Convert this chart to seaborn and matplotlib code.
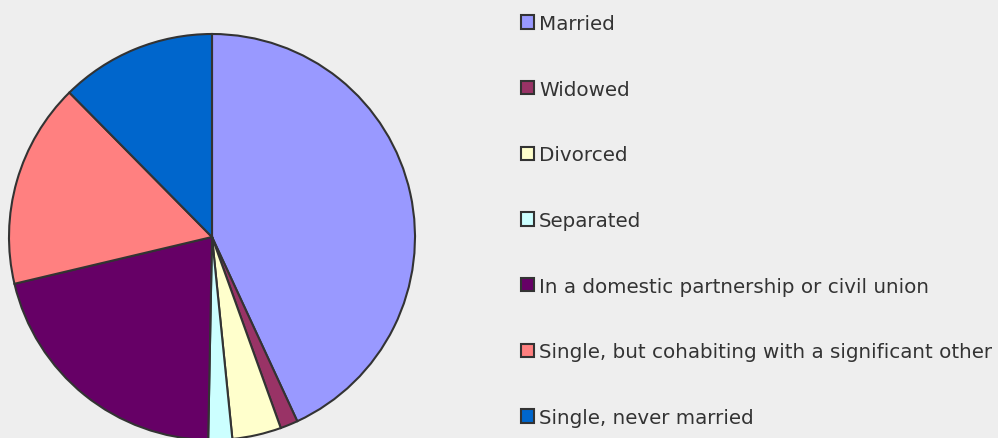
import matplotlib
matplotlib.use("Agg")
import matplotlib.pyplot as plt
import seaborn as sns

categories = [
    "Married",
    "Widowed",
    "Divorced",
    "Separated",
    "In a domestic partnership or civil union",
    "Single, but cohabiting with a significant other",
    "Single, never married",
]
shares = [43.1, 1.4, 3.9, 1.9, 21.0, 16.3, 12.4]
slice_colors = ["#9999FF", "#993366", "#FFFFCC", "#CCFFFF", "#660066", "#FF8080", "#0066CC"]

sns.set_style("white")
plt.rcParams["font.family"] = ["DejaVu Sans"]

bg = "#EEEEEE"
fig = plt.figure(figsize=(9.98, 4.39), dpi=100, facecolor=bg)
W, H = 998, 439
cx, cy, r = 212, 238, 203
ax = fig.add_axes([(cx - r) / W, (H - (cy + r)) / H, 2 * r / W, 2 * r / H])
ax.set_facecolor(bg)
palette = sns.color_palette(slice_colors)
wedges, _ = ax.pie(
    shares,
    colors=palette,
    startangle=90,
    counterclock=False,
    radius=1,
    wedgeprops=dict(edgecolor="#333333", linewidth=1.5),
)
ax.set_xlim(-1, 1)
ax.set_ylim(-1, 1)
ax.set_aspect("equal")
ax.axis("off")

leg = fig.legend(
    wedges,
    categories,
    loc="upper left",
    bbox_to_anchor=(521 / W, 1 - 15 / H),
    frameon=False,
    fontsize=14.3,
    handlelength=0.65,
    handleheight=0.65,
    handletextpad=0.25,
    labelspacing=2.35,
    borderpad=0,
    borderaxespad=0,
    labelcolor="#333333",
)
for h in leg.legend_handles:
    h.set_edgecolor("#333333")
    h.set_linewidth(1.5)

fig.savefig("out.png", dpi=100, facecolor=bg)
